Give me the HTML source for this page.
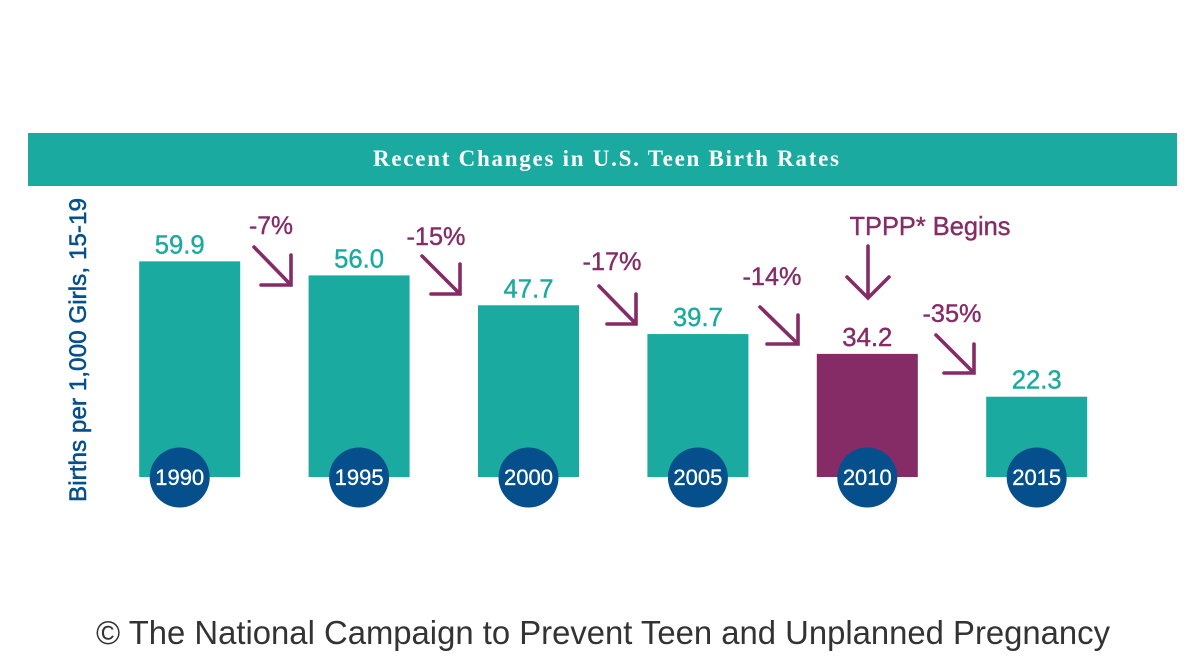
<!DOCTYPE html>
<html lang="en">
<head>
<meta charset="utf-8">
<title>Recent Changes in U.S. Teen Birth Rates</title>
<style>
html,body{margin:0;padding:0;background:#fff;}
svg{display:block;}
text{font-family:"Liberation Sans",sans-serif;}
.arrow{fill:none;stroke:#852c66;stroke-width:3.6;stroke-linecap:round;stroke-linejoin:miter;}
.pct{fill:#852c66;stroke:#852c66;stroke-width:0.4;font-size:25px;text-anchor:middle;}
</style>
</head>
<body>
<svg id="chart" xmlns="http://www.w3.org/2000/svg" width="1200" height="672" viewBox="0 0 1200 672">
  <rect x="0" y="0" width="1200" height="672" fill="#ffffff"/>
  <rect x="28" y="133" width="1149" height="53" fill="#1aaa9f"/>
  <text x="606" y="166" text-anchor="middle" textLength="466" lengthAdjust="spacing" style="font-family:'Liberation Serif',serif;font-weight:bold;font-size:23px;fill:#ffffff;">Recent Changes in U.S. Teen Birth Rates</text>
  <text transform="translate(86,350) rotate(-90)" text-anchor="middle" textLength="304" lengthAdjust="spacingAndGlyphs" style="font-size:24px;fill:#05508c;stroke:#05508c;stroke-width:0.5;">Births per 1,000 Girls, 15-19</text>

  <g id="marks"></g>

  <g>
    <text class="pct" x="271" y="234" textLength="44" lengthAdjust="spacingAndGlyphs">-7%</text>
    <path class="arrow" d="M254 247L291 285M261 285H291V255"/>
    <text class="pct" x="436" y="245" textLength="59" lengthAdjust="spacingAndGlyphs">-15%</text>
    <path class="arrow" d="M422 256L460 294M431 294H460V264"/>
    <text class="pct" x="612" y="270" textLength="59" lengthAdjust="spacingAndGlyphs">-17%</text>
    <path class="arrow" d="M599 286L636 324M607 324H636V294"/>
    <text class="pct" x="772" y="285" textLength="59" lengthAdjust="spacingAndGlyphs">-14%</text>
    <path class="arrow" d="M760 307L798 344M767 344H798V315"/>
    <text class="pct" x="952" y="322" textLength="59" lengthAdjust="spacingAndGlyphs">-35%</text>
    <path class="arrow" d="M936 335L974 373M944 373H974V344"/>
    <text x="930" y="235" text-anchor="middle" textLength="161" lengthAdjust="spacingAndGlyphs" style="font-size:26px;fill:#852c66;stroke:#852c66;stroke-width:0.4;">TPPP* Begins</text>
    <path class="arrow" d="M868 246V298M847 277L868 298L889 277"/>
  </g>

  <text x="603" y="644" text-anchor="middle" textLength="1014" lengthAdjust="spacingAndGlyphs" style="font-size:33px;fill:#333333;">© The National Campaign to Prevent Teen and Unplanned Pregnancy</text>
</svg>
<script>
const years = ["1990", "1995", "2000", "2005", "2010", "2015"];
const birthRates = [59.9, 56.0, 47.7, 39.7, 34.2, 22.3];
const highlightYears = ["2010"];

const SVG_NS = "http://www.w3.org/2000/svg";
const TEAL = "#1aaa9f";
const PURPLE = "#852c66";
const BLUE = "#05508c";
const BASELINE = 477;
const PX_PER_UNIT = 3.6;
const BAR_WIDTH = 101;

function xCenter(i) {
  return 189.7 + 169.4 * i;
}
function yValue(v) {
  return BASELINE - v * PX_PER_UNIT;
}
function labelCenter(i) {
  return i === 0 ? xCenter(i) - 10 : xCenter(i);
}
function svgEl(tag, attrs) {
  const el = document.createElementNS(SVG_NS, tag);
  for (const k in attrs) el.setAttribute(k, attrs[k]);
  return el;
}

const layer = document.getElementById("marks");

years.forEach(function (year, i) {
  const value = birthRates[i];
  const highlighted = highlightYears.indexOf(year) !== -1;
  const color = highlighted ? PURPLE : TEAL;

  const bar = svgEl("rect", {
    x: xCenter(i) - BAR_WIDTH / 2,
    y: yValue(value),
    width: BAR_WIDTH,
    height: BASELINE - yValue(value),
    fill: color
  });
  
  
  layer.appendChild(bar);

  const valueLabel = svgEl("text", {
    x: labelCenter(i),
    y: yValue(value) - 8,
    "text-anchor": "middle",
    "font-size": "25.7",
    fill: color,
    stroke: color,
    "stroke-width": "0.4"
  });
  
  
  valueLabel.textContent = value.toFixed(1);
  layer.appendChild(valueLabel);

  const badge = svgEl("circle", {
    cx: labelCenter(i),
    cy: 477.5,
    r: 30,
    fill: BLUE
  });
  
  
  layer.appendChild(badge);

  const yearLabel = svgEl("text", {
    x: labelCenter(i),
    y: 485,
    "text-anchor": "middle",
    "font-size": "22",
    fill: "#ffffff",
    stroke: "#ffffff",
    "stroke-width": "0.3"
  });
  
  
  yearLabel.textContent = year;
  layer.appendChild(yearLabel);
});
</script>
</body>
</html>
